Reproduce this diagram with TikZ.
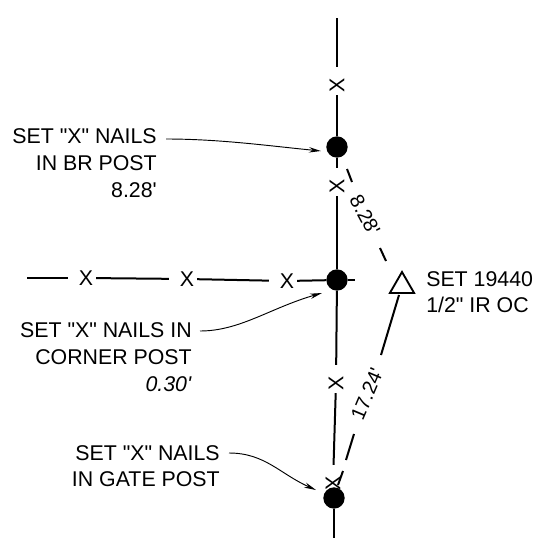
\documentclass[tikz,border=0pt]{standalone}
\usepackage{fontspec}
\setmainfont{Liberation Sans}
\usetikzlibrary{arrows.meta,shapes.geometric}
\tikzset{
    post/.style={circle,fill=black,inner sep=0pt,minimum size=16pt},
    nailx/.style={inner sep=2pt,font=\fontsize{16}{16}\selectfont},
    lbl/.style={align=right,anchor=east,inner sep=0pt,font=\fontsize{16}{20}\selectfont},
    dist/.style={font=\fontsize{15}{16}\selectfont,inner sep=0pt},
    wire/.style={line width=1.5pt},
    gap/.style={shorten >=6pt},
    lead/.style={line width=0.7pt,-{Stealth[length=9pt,width=4pt]}}
}
\newcommand{\qd}{\textquotedbl}
\newcommand{\qs}{\textquotesingle}
\begin{document}
\begin{tikzpicture}[x=0.75pt,y=-0.75pt]
    \useasboundingbox (0,0) rectangle (544,546);
    \node[post] (brpost) at (337,147) {};
    \node[post] (cornerpost) at (337,280) {};
    \node[post] (gatepost) at (334,498) {};
    \node[nailx,rotate=90] (x1) at (337,85) {X};
    \node[nailx,rotate=90] (x2) at (337,186) {X};
    \node[nailx,rotate=90] (x3) at (336,383) {X};
    \node[nailx,rotate=90] (x4) at (333,483) {X};
    \node[nailx] (w1) at (86,278) {X};
    \node[nailx] (w2) at (187,279) {X};
    \node[nailx] (w3) at (287,281) {X};
    \coordinate (top) at (337,18);
    \coordinate (bottom) at (334,538);
    \coordinate (west) at (27,278);
    \coordinate (east) at (355,280);
    \draw[wire,gap] (top) -- (x1);
    \draw[wire] (x1) -- (brpost);
    \draw[wire,gap] (brpost) -- (x2);
    \draw[wire] (x2) -- (cornerpost);
    \draw[wire,gap] (cornerpost) -- (x3);
    \draw[wire,gap] (x3) -- (x4);
    \draw[wire] (gatepost) -- (bottom);
    \draw[wire,gap] (west) -- (w1);
    \draw[wire,gap] (w1) -- (w2);
    \draw[wire,gap] (w2) -- (w3);
    \draw[wire] (w3) -- (cornerpost);
    \draw[wire] (cornerpost) -- (east);
    \node[draw,regular polygon,regular polygon sides=3,line width=1.4pt,inner sep=0pt,minimum size=21pt] (ip) at (402,286) {};
    \coordinate (t1a) at (347,169);
    \coordinate (t1b) at (352,182);
    \coordinate (t2a) at (380,248);
    \coordinate (t2b) at (386,261);
    \coordinate (t3a) at (399,295);
    \coordinate (t3b) at (381,355);
    \coordinate (t4a) at (354,434);
    \coordinate (t4b) at (346,460);
    \coordinate (t5a) at (343,471);
    \coordinate (t5b) at (338,485);
    \draw[wire] (t1a) -- (t1b);
    \draw[wire] (t2a) -- (t2b);
    \draw[wire] (t3a) -- (t3b);
    \draw[wire] (t4a) -- (t4b);
    \draw[wire] (t5a) -- (t5b);
    \node[dist,rotate=-62] (dist1) at (365,215) {8.28\qs};
    \node[dist,rotate=67] (dist2) at (367,394) {17.24\qs};
    \node[lbl] (brlabel) at (157,163) {SET \qd X\qd{} NAILS\\IN BR POST\\8.28\qs};
    \node[lbl] (cornerlabel) at (192,357) {SET \qd X\qd{} NAILS IN\\CORNER POST\\\textit{0.30\qs}};
    \node[lbl] (gatelabel) at (220,466) {SET \qd X\qd{} NAILS\\IN GATE POST};
    \node[lbl,align=left,anchor=west] (setlabel) at (426,292) {SET 19440\\1/2\qd{} IR OC};
    \coordinate (lead1) at (166,139);
    \coordinate (lead2) at (200,331);
    \coordinate (lead3) at (229,453);
    \draw[lead] (lead1) .. controls (220,139) and (270,146) .. (321,151);
    \draw[lead] (lead2) .. controls (240,331) and (270,308) .. (322,293);
    \draw[lead] (lead3) .. controls (265,453) and (280,474) .. (316,490);
\end{tikzpicture}
\end{document}
